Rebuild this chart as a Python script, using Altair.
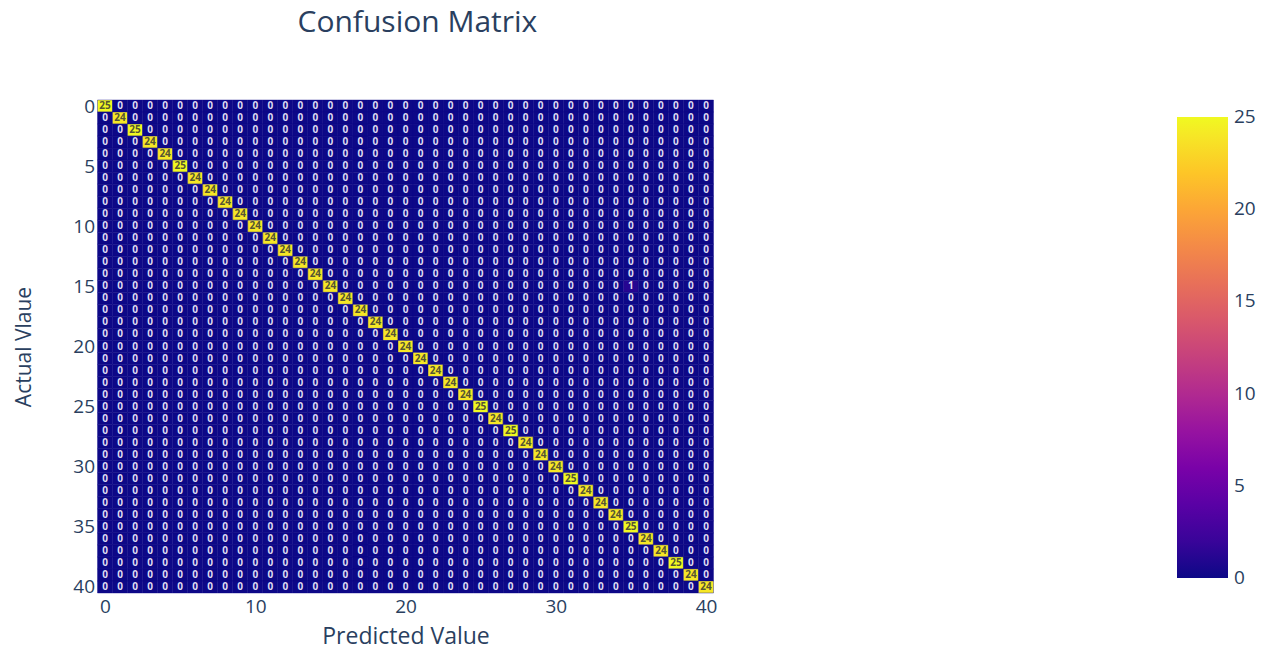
import altair as alt
import pandas as pd

# Diagonal counts (actual == predicted) for classes 0..40
classes = list(range(41))
diag_counts = [25, 24, 25, 24, 24, 25, 24, 24, 24, 24,
               24, 24, 24, 24, 24, 24, 24, 24, 24, 24,
               24, 24, 24, 24, 24, 25, 24, 25, 24, 24,
               24, 25, 24, 24, 24, 25, 24, 24, 25, 24,
               24]
# Off-diagonal non-zero entries: (actual, predicted, count)
off_actual = [15]
off_pred = [35]
off_count = [1]

rows = []
extra = {(a, p): c for a, p, c in zip(off_actual, off_pred, off_count)}
for a in classes:
    for p in classes:
        if a == p:
            v = diag_counts[a]
        else:
            v = extra.get((a, p), 0)
        rows.append({"actual": a, "pred": p, "value": v})
df = pd.DataFrame(rows)

FONT = "Open Sans"
TXT = "#2a3f5f"

base = alt.Chart(df).transform_calculate(
    x0="datum.pred - 0.5", x1="datum.pred + 0.5",
    y0="datum.actual - 0.5", y1="datum.actual + 0.5",
)

xscale = alt.Scale(domain=[-0.5, 40.5], nice=False, zero=False)
yscale = alt.Scale(domain=[-0.5, 40.5], nice=False, zero=False, reverse=True)
cscale = alt.Scale(scheme="plasma", domain=[-0.001, 25.001], nice=False)

rect = base.mark_rect(stroke="#0d0887", strokeWidth=0.5, strokeOpacity=0.8).encode(
    x=alt.X("x0:Q", scale=xscale,
            axis=alt.Axis(title="Predicted Value", values=[0, 10, 20, 30, 40],
                          ticks=False, domain=False, grid=False,
                          labelFontSize=19, labelColor=TXT, labelFont=FONT,
                          labelPadding=4, titleFontSize=23, titleColor=TXT,
                          titleFont=FONT, titleFontWeight="normal",
                          titlePadding=9)),
    x2="x1:Q",
    y=alt.Y("y0:Q", scale=yscale,
            axis=alt.Axis(title="Actual Vlaue", values=[0, 5, 10, 15, 20, 25, 30, 35, 40],
                          ticks=False, domain=False, grid=False,
                          labelFontSize=19, labelColor=TXT, labelFont=FONT,
                          labelPadding=3, titleFontSize=21, titleColor=TXT,
                          titleFont=FONT, titleFontWeight="normal",
                          titlePadding=38)),
    y2="y1:Q",
    color=alt.Color("value:Q", scale=cscale,
                    legend=alt.Legend(title=None, orient="none",
                                      legendX=1079.5, legendY=17,
                                      direction="vertical",
                                      gradientLength=461, gradientThickness=51,
                                      gradientStrokeWidth=0,
                                      values=[0, 5, 10, 15, 20, 25],
                                      labelBaseline="middle",
                                      labelFontSize=19, labelColor=TXT,
                                      labelFont=FONT, labelOffset=6)),
)

text = alt.Chart(df).mark_text(fontSize=10, font=FONT, fontWeight="bold").encode(
    x=alt.X("pred:Q", scale=xscale),
    y=alt.Y("actual:Q", scale=yscale),
    text=alt.Text("value:Q"),
    color=alt.condition("datum.value > 12", alt.value("#555533"), alt.value("#dedbf2")),
)

chart = alt.layer(rect, text).properties(
    width=616, height=493,
    autosize=alt.AutoSizeParams(type="none"),
    padding={"left": 89.5, "top": 92, "right": 554.5, "bottom": 57},
    title=alt.TitleParams("Confusion Matrix", anchor="start", frame="group", dx=200,
                          offset=59, fontSize=30, font=FONT, fontWeight="normal",
                          color=TXT),
).configure_view(strokeWidth=0)

chart.save("out.html", embed_options={"renderer": "svg", "actions": False})
